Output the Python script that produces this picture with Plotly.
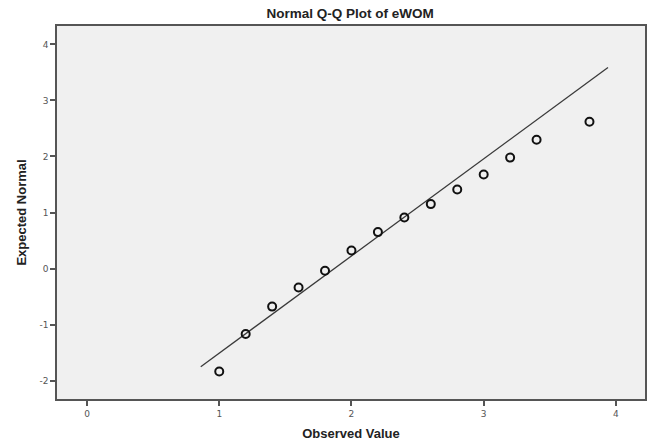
import numpy as np
import plotly.graph_objects as go

observed = [1.0, 1.2, 1.4, 1.6, 1.8, 2.0, 2.2, 2.4, 2.6, 2.8, 3.0, 3.2, 3.4, 3.8]
expected = [-1.84, -1.17, -0.68, -0.34, -0.04, 0.32, 0.65, 0.91, 1.15, 1.41, 1.68, 1.98, 2.30, 2.62]

fit_mean = 1.871
fit_sd = 0.5764
line_x = [0.86, 3.94]
line_y = [(v - fit_mean) / fit_sd for v in line_x]

x_ticks = [0, 1, 2, 3, 4]
x_tick_labels = ["0", "1", "2", "3", "4"]
y_ticks = [-2, -1, 0, 1, 2, 3, 4]
y_tick_labels = ["-2", "-1", "0", "1", "2", "3", "4"]

fig = go.Figure()
fig.add_trace(go.Scatter(x=line_x, y=line_y, mode="lines",
                         line=dict(color="#3a3a3a", width=1.3), hoverinfo="skip"))
fig.add_trace(go.Scatter(x=observed, y=expected, mode="markers",
                         marker=dict(symbol="circle-open", size=8, color="#111111",
                                     line=dict(width=2, color="#111111"))))

axis_common = dict(showgrid=False, zeroline=False, showline=True, linecolor="#555555",
                   linewidth=1.5, mirror=True, ticks="outside", ticklen=5, tickwidth=1.5,
                   tickcolor="#555555", automargin=False,
                   tickfont=dict(family="DejaVu Sans", size=9, color="#555555"))

fig.update_layout(
    width=647, height=442,
    margin=dict(l=57, r=2, t=26, b=43),
    paper_bgcolor="white", plot_bgcolor="#f0f0f0",
    showlegend=False,
    title=dict(text="<b>Normal Q-Q Plot of eWOM</b>", x=0.541, xanchor="center",
               y=0.97, yanchor="middle",
               font=dict(family="Liberation Sans", size=13.5, color="#222222")),
    xaxis=dict(range=[-0.227, 4.22], tickvals=x_ticks, ticktext=x_tick_labels,
               title=dict(text="<b>Observed Value</b>", standoff=11,
                          font=dict(family="Liberation Sans", size=13, color="#222222")),
               **axis_common),
    yaxis=dict(range=[-2.33, 4.33], tickvals=y_ticks, ticktext=y_tick_labels,
               title=dict(text="<b>Expected Normal</b>", standoff=10,
                          font=dict(family="Liberation Sans", size=13, color="#222222")),
               **axis_common),
)

fig.write_html("out.html", config={"displayModeBar": False},
               post_script="document.body.style.margin='0';")
